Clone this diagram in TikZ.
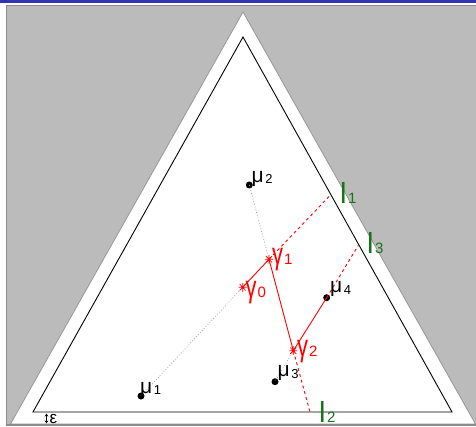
\documentclass[tikz,border=0pt]{standalone}
\usepackage{fontspec}
\setmainfont{Liberation Sans}
\usetikzlibrary{arrows.meta}
\definecolor{bgray}{RGB}{187,187,187}
\definecolor{fgray}{RGB}{140,140,140}
\definecolor{tgray}{RGB}{150,150,150}
\definecolor{bbar}{RGB}{51,51,178}
\definecolor{lgreen}{RGB}{25,115,25}
\begin{document}
\begin{tikzpicture}[x=1pt,y=-1pt,
  mudot/.style={circle,fill=black,inner sep=0pt,minimum size=7pt},
  mulabel/.style={anchor=base west,inner sep=0pt,font=\fontsize{21}{21}\selectfont},
  glabel/.style={anchor=base west,inner sep=0pt,text=red,font=\fontsize{22}{22}\selectfont},
  llabel/.style={anchor=base west,inner sep=0pt,text=lgreen,font=\fontsize{29}{29}\selectfont},
  redline/.style={red,line width=0.9pt},
  reddash/.style={red,line width=0.9pt,dash pattern=on 3pt off 3pt},
  graydot/.style={gray!70,line width=0.8pt,dotted},
  astk/.pic={\draw[red,line width=0.7pt] (-4,0)--(4,0) (0,-4.5)--(0,4.5) (-3,-3.2)--(3,3.2) (-3,3.2)--(3,-3.2);}
]
\useasboundingbox (0,0) rectangle (476,427);
% top bar
\fill[bbar] (0,0) rectangle (476,3.3);
% frame
\fill[bgray] (6.5,5.5) rectangle (478,425);
% outer triangle
\filldraw[fill=white,draw=tgray,line width=0.8pt] (243,12) -- (10.5,424) -- (475.5,424) -- cycle;
\draw[fgray,line width=1.2pt] (478,5.5) -- (6.5,5.5) -- (6.5,425) -- (478,425);
% inner triangle
\draw[black,line width=0.9pt] (243,37) -- (33,412) -- (452,412) -- cycle;
% points
\node[mudot] (m1) at (141,396) {};
\node[mudot] (m2) at (249.3,185) {};
\node[mudot] (m3) at (275,381.7) {};
\node[mudot] (m4) at (326.7,297.7) {};
\coordinate (g0) at (242.7,287.3);
\coordinate (g1) at (269,259.3);
\coordinate (g2) at (293.3,350.7);
\coordinate (p1) at (330.5,195);
\coordinate (p3) at (358.5,245);
\coordinate (p2) at (310,412);
% dotted
\draw[graydot] (m2.center) -- (g1);
\draw[graydot] (g0) -- (m1.center);
\draw[graydot] (g2) -- (m3.center);
% dashed
\draw[reddash] (g1) -- (p1);
\draw[reddash] (m4.center) -- (p3);
\draw[reddash] (g2) -- (p2);
% solid
\draw[redline] (g0) -- (g1) -- (g2) -- (m4.center);
% stars
\pic at (g0) {astk};
\pic at (g1) {astk};
\pic at (g2) {astk};
% mu labels
\node[mulabel] (lm1) at (140,393) {μ\kern1.5pt\raisebox{-1pt}{\fontsize{13}{13}\selectfont 1}};
\node[mulabel] (lm2) at (251.5,183) {μ\kern1.5pt\raisebox{-0.5pt}{\fontsize{13}{13}\selectfont 2}};
\node[mulabel] (lm3) at (277.5,376.5) {μ\kern1.5pt\raisebox{-2pt}{\fontsize{13}{13}\selectfont 3}};
\node[mulabel] (lm4) at (330,293) {μ\kern1.5pt\raisebox{-1.5pt}{\fontsize{13}{13}\selectfont 4}};
% gamma labels
\node[glabel] (lg0) at (245.5,298) {\scalebox{1.0}[1.4]{γ}\kern1pt{\fontsize{15}{15}\selectfont 0}};
\node[glabel] (lg1) at (272,265) {\scalebox{1.0}[1.4]{γ}\kern1pt{\fontsize{15}{15}\selectfont 1}};
\node[glabel] (lg2) at (297,356) {\scalebox{1.0}[1.4]{γ}\kern1pt{\fontsize{15}{15}\selectfont 2}};
% l labels
\node[llabel] (l1) at (340,204) {l\kern1.5pt{\fontsize{15}{15}\selectfont 1}};
\node[llabel] (l3) at (367,254) {l\kern1.5pt{\fontsize{15}{15}\selectfont 3}};
\node[llabel] (l2) at (319,422.5) {l\kern1.5pt{\fontsize{15}{15}\selectfont 2}};
% epsilon
\coordinate (e1) at (46.5,413.5);
\coordinate (e2) at (46.5,423.5);
\draw[black,line width=0.9pt,{Stealth[length=3pt,width=3.5pt]}-{Stealth[length=3pt,width=3.5pt]}] (e1) -- (e2);
\node[anchor=base west,inner sep=0pt,font=\fontsize{17}{17}\selectfont] (eps) at (49.5,423) {ε};
\end{tikzpicture}
\end{document}
